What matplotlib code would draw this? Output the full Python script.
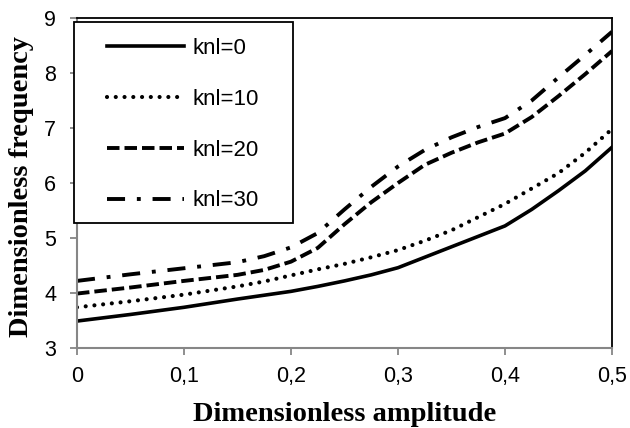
import matplotlib
matplotlib.use("Agg")
import matplotlib.pyplot as plt
from matplotlib.patches import Rectangle
from matplotlib.ticker import FixedLocator, FuncFormatter

plt.rcParams['font.family'] = ['Liberation Sans', 'DejaVu Sans']
plt.rcParams['lines.scale_dashes'] = False

# amplitude samples
amp = [0, 0.05, 0.1, 0.15, 0.175, 0.2, 0.225, 0.25, 0.275, 0.3,
       0.325, 0.35, 0.375, 0.4, 0.425, 0.45, 0.475, 0.5]

# dimensionless frequency for each nonlinear stiffness
freq_knl0 = [3.49, 3.61, 3.74, 3.89, 3.96, 4.03, 4.12, 4.22, 4.33, 4.46,
             4.65, 4.84, 5.03, 5.22, 5.52, 5.86, 6.22, 6.65]
freq_knl10 = [3.74, 3.85, 3.97, 4.12, 4.21, 4.32, 4.43, 4.53, 4.65, 4.78,
              4.95, 5.14, 5.38, 5.62, 5.90, 6.18, 6.55, 6.98]
freq_knl20 = [3.99, 4.10, 4.22, 4.33, 4.42, 4.57, 4.82, 5.25, 5.65, 6.00,
              6.33, 6.55, 6.74, 6.90, 7.20, 7.58, 7.98, 8.40]
freq_knl30 = [4.22, 4.34, 4.45, 4.56, 4.67, 4.83, 5.09, 5.52, 5.93, 6.30,
              6.60, 6.83, 7.02, 7.18, 7.50, 7.92, 8.33, 8.75]

labels = ['knl=0', 'knl=10', 'knl=20', 'knl=30']
xticks = [0, 0.1, 0.2, 0.3, 0.4, 0.5]
yticks = [3, 4, 5, 6, 7, 8, 9]

fig = plt.figure(figsize=(6.3, 4.28), dpi=100)
ax = fig.add_axes([0.1222, 0.1869, 0.8492, 0.7710])

ax.plot(amp, freq_knl0, color='black', lw=2.6, linestyle='-', label=labels[0])
ax.plot(amp, freq_knl10, color='black', lw=3.0, linestyle=(0, (0.01, 6.3)),
        dash_capstyle='round', label=labels[1])
ax.plot(amp, freq_knl20, color='black', lw=2.8, linestyle=(0, (9.0, 3.6)),
        dash_capstyle='butt', label=labels[2])
ax.plot(amp, freq_knl30, color='black', lw=2.8, linestyle=(0, (13.0, 8.5, 2.8, 8.5)),
        dash_capstyle='butt', label=labels[3])

ax.set_xlim(0, 0.5)
ax.set_ylim(3, 9)
ax.xaxis.set_major_locator(FixedLocator(xticks))
ax.yaxis.set_major_locator(FixedLocator(yticks))
ax.xaxis.set_major_formatter(FuncFormatter(lambda v, p: ('%g' % v).replace('.', ',')))
ax.yaxis.set_major_formatter(FuncFormatter(lambda v, p: '%d' % v))
ax.tick_params(axis='both', direction='out', length=5, width=1.3, color='#868686',
               labelsize=15.5)
ax.tick_params(axis='x', pad=8)
ax.tick_params(axis='y', pad=10)

for side in ('left', 'bottom'):
    ax.spines[side].set_color('#868686')
    ax.spines[side].set_linewidth(1.5)
for side in ('top', 'right'):
    ax.spines[side].set_color('black')
    ax.spines[side].set_linewidth(1.3)

serif = ['Liberation Serif', 'DejaVu Serif']
ax.set_xlabel('Dimensionless amplitude', family=serif, fontweight='bold', fontsize=20.5)
ax.set_ylabel('Dimensionless frequency', family=serif, fontweight='bold', fontsize=20.5)
ax.xaxis.label.set_va('center')
ax.yaxis.label.set_va('center')
ax.xaxis.set_label_coords(0.5, -0.203)
ax.yaxis.set_label_coords(-0.103, 0.49)

# legend frame drawn separately so the handles can sit further in
frame = Rectangle((-0.0056, 0.3788), 0.4093, 0.6091, transform=ax.transAxes,
                  facecolor='white', edgecolor='black', lw=1.3, clip_on=False, zorder=4)
ax.add_patch(frame)
leg = ax.legend(loc='upper left', bbox_to_anchor=(0.0561, 0.9394), borderaxespad=0,
                borderpad=0, fontsize=16, frameon=False,
                handlelength=3.46, handletextpad=0.4, labelspacing=1.34)
leg.set_zorder(5)

fig.savefig('out.png', dpi=100)
